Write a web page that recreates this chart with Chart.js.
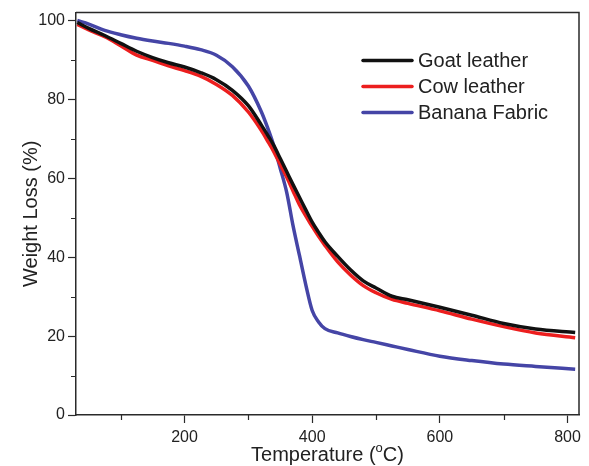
<!DOCTYPE html>
<html>
<head>
<meta charset="utf-8">
<script src="https://cdn.jsdelivr.net/npm/chart.js@4.4.0/dist/chart.umd.min.js"></script>
<style>
  html, body { margin: 0; padding: 0; background: #fff; }
  #tga { display: block; }
</style>
</head>
<body>
<canvas id="tga" width="589" height="466"></canvas>
<script>
// values
const temperatures = [32, 50, 75, 100, 125, 150, 175, 200, 225, 250, 275, 300, 320, 330, 340, 350, 360, 370, 380, 390, 400, 410, 420, 440, 460, 480, 500, 525, 550, 600, 650, 700, 750, 812];
const goatLeather = [99.5, 98.0, 96.2, 94.2, 92.2, 90.6, 89.3, 88.2, 86.8, 85.0, 82.3, 78.4, 73.6, 71.0, 68.3, 65.0, 61.7, 58.4, 55.2, 52.0, 48.9, 46.3, 43.9, 40.2, 36.8, 34.0, 32.2, 30.1, 29.2, 27.3, 25.3, 23.2, 21.8, 20.9];
const cowLeather = [99.0, 97.6, 95.9, 93.6, 91.2, 89.9, 88.5, 87.3, 85.9, 83.8, 81.0, 76.8, 72.2, 69.5, 66.7, 63.5, 60.3, 56.8, 53.3, 50.5, 47.8, 45.3, 43.0, 38.8, 35.5, 32.8, 31.0, 29.3, 28.3, 26.4, 24.3, 22.4, 20.8, 19.6];
const bananaFabric = [100, 99.1, 97.5, 96.4, 95.5, 94.8, 94.2, 93.5, 92.6, 91.2, 88.3, 83.4, 77.0, 72.9, 68.2, 62.5, 56.5, 48.0, 40.5, 33.0, 26.5, 23.6, 21.9, 20.8, 19.9, 19.1, 18.4, 17.5, 16.6, 14.9, 13.8, 12.9, 12.3, 11.6];
const seriesLabels = ['Goat leather', 'Cow leather', 'Banana Fabric'];
const seriesColors = ['#111111', '#ec1e1e', '#4545a6'];

const axisColor = '#2a2a2a';
const textColor = '#222222';
const fontFamily = 'Arial, "Liberation Sans", sans-serif';

const toPoints = values => values.map((v, i) => ({x: temperatures[i], y: v}));

// box on top/right plus the short minor ticks
const frame = {
    id: 'frame',
    afterDraw(chart) {
        const {ctx, chartArea: a, scales} = chart;
        ctx.save();
        ctx.strokeStyle = axisColor;
        ctx.lineWidth = 1.5;
        ctx.beginPath();
        ctx.moveTo(a.left, a.top);
        ctx.lineTo(a.right, a.top);
        ctx.lineTo(a.right, a.bottom);
        ctx.stroke();

        ctx.lineWidth = 1.2;
        ctx.beginPath();
        for (let t = 100; t <= scales.x.max; t += 200) {
            const px = Math.round(scales.x.getPixelForValue(t)) + 0.5;
            ctx.moveTo(px, a.bottom);
            ctx.lineTo(px, a.bottom + 5);
        }
        for (let w = 10; w <= 100; w += 20) {
            const py = Math.round(scales.y.getPixelForValue(w)) + 0.5;
            ctx.moveTo(a.left, py);
            ctx.lineTo(a.left - 5, py);
        }
        ctx.stroke();
        ctx.restore();
    }
};

// legend inside the plot, upper right
const insideLegend = {
    id: 'insideLegend',
    afterDraw(chart) {
        const {ctx, chartArea: a} = chart;
        const x0 = a.right - 216;
        ctx.save();
        ctx.font = '20px ' + fontFamily;
        ctx.textBaseline = 'middle';
        ctx.lineCap = 'round';
        chart.data.datasets.forEach((ds, i) => {
            const y = a.top + 48 + i * 26;
            ctx.strokeStyle = ds.borderColor;
            ctx.lineWidth = 3.5;
            ctx.beginPath();
            ctx.moveTo(x0, y);
            ctx.lineTo(x0 + 49, y);
            ctx.stroke();
            ctx.fillStyle = textColor;
            ctx.fillText(ds.label, x0 + 55, y + 1);
        });
        ctx.restore();
    }
};

// x title with superscript o
const xTitle = {
    id: 'xTitle',
    afterDraw(chart) {
        const {ctx, chartArea: a} = chart;
        const big = '20px ' + fontFamily;
        const small = '13px ' + fontFamily;
        const p1 = 'Temperature (', p2 = 'o', p3 = 'C)';
        ctx.save();
        ctx.fillStyle = textColor;
        ctx.textBaseline = 'middle';
        ctx.font = big;
        const w1 = ctx.measureText(p1).width;
        const w3 = ctx.measureText(p3).width;
        ctx.font = small;
        const w2 = ctx.measureText(p2).width;
        let x = (a.left + a.right) / 2 - (w1 + w2 + w3) / 2;
        const y = chart.height - 11;
        ctx.font = big;
        ctx.fillText(p1, x, y);
        ctx.font = small;
        ctx.fillText(p2, x + w1, y - 7);
        ctx.font = big;
        ctx.fillText(p3, x + w1 + w2, y);
        ctx.restore();
    }
};

const ctx = document.getElementById('tga');
new Chart(ctx, {
    type: 'line',
    data: {
        datasets: [
            {label: seriesLabels[0], data: toPoints(goatLeather), borderColor: seriesColors[0]},
            {label: seriesLabels[1], data: toPoints(cowLeather), borderColor: seriesColors[1]},
            {label: seriesLabels[2], data: toPoints(bananaFabric), borderColor: seriesColors[2]}
        ]
    },
    options: {
        responsive: false,
        animation: false,
        layout: {
            padding: {top: 9, right: 10, left: 0, bottom: 0}
        },
        elements: {
            point: {radius: 0},
            line: {borderWidth: 3.5, cubicInterpolationMode: 'monotone', fill: false}
        },
        plugins: {
            legend: {display: false},
            tooltip: {enabled: false}
        },
        scales: {
            x: {
                type: 'linear',
                min: 30,
                max: 818,
                afterFit: scale => { scale.height = 51; },
                border: {color: axisColor, width: 1.5},
                grid: {
                    drawOnChartArea: false,
                    drawTicks: true,
                    tickLength: 8,
                    tickWidth: 1.2,
                    // odd hundreds are drawn short by the frame plugin
                    tickColor: c => (c.tick && c.tick.value % 200 === 0) ? axisColor : 'rgba(0,0,0,0)'
                },
                ticks: {
                    stepSize: 100,
                    includeBounds: false,
                    autoSkip: false,
                    padding: 5,
                    color: textColor,
                    maxRotation: 0,
                    font: {family: fontFamily, size: 16},
                    callback: v => (v % 200 === 0 ? String(v) : '')
                },
                title: {display: false}
            },
            y: {
                min: 0,
                max: 102,
                afterFit: scale => { scale.width = 76; },
                border: {color: axisColor, width: 1.5},
                grid: {drawOnChartArea: false, drawTicks: true, tickLength: 8, tickColor: axisColor, tickWidth: 1.2},
                ticks: {
                    stepSize: 20,
                    includeBounds: false,
                    padding: 3,
                    color: textColor,
                    font: {family: fontFamily, size: 16}
                },
                title: {
                    display: true,
                    text: 'Weight Loss (%)',
                    color: textColor,
                    font: {family: fontFamily, size: 20},
                    padding: {top: 19, bottom: 0}
                }
            }
        }
    },
    plugins: [frame, insideLegend, xTitle]
});
</script>
</body>
</html>
